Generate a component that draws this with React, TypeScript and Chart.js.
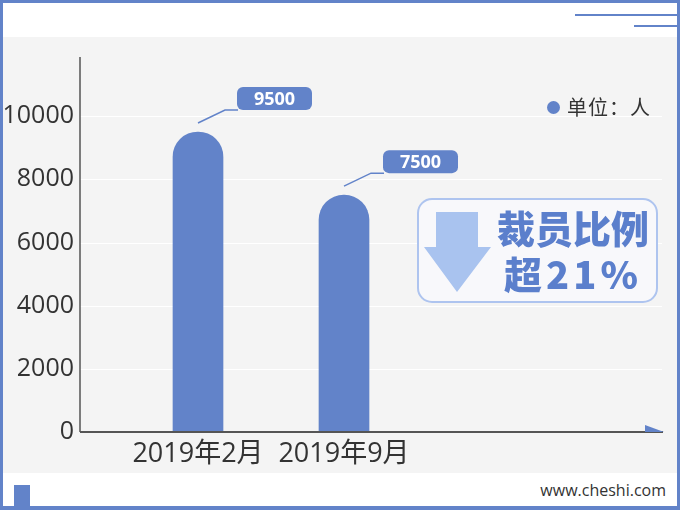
import React, { useEffect, useRef } from "react";
import { Chart, registerables } from "chart.js";

Chart.register(...registerables);

const categories = ["2019年2月", "2019年9月"];
const headcount = [9500, 7500];
const yTickValues = [0, 2000, 4000, 6000, 8000, 10000];
const yMax = 12000;
const unitLabel = "单位：人";
const badgeLine1 = "裁员比例";
const badgeLine2 = "超21%";
const siteText = "www.cheshi.com";

const BLUE = "#6283c9";
const FONT = '"Open Sans", "Noto Sans CJK SC", sans-serif';
const CJK = '"Noto Sans CJK SC", "Open Sans", sans-serif';

const decorPlugin = {
  id: "decor",
  beforeDatasetsDraw(chart: any) {
    const { ctx, chartArea, scales } = chart;
    const left = chartArea.left - 45;
    const right = 662;
    ctx.save();
    ctx.strokeStyle = "#ffffff";
    ctx.lineWidth = 1;
    yTickValues.forEach((v) => {
      if (v === 0) return;
      const y = Math.round(scales.y.getPixelForValue(v)) + 0.5;
      ctx.beginPath();
      ctx.moveTo(left, y);
      ctx.lineTo(right, y);
      ctx.stroke();
    });
    // y axis line
    ctx.strokeStyle = "#555555";
    ctx.lineWidth = 1.5;
    ctx.beginPath();
    ctx.moveTo(left, chartArea.top + 4);
    ctx.lineTo(left, chartArea.bottom);
    ctx.stroke();
    ctx.restore();
  },
  afterDatasetsDraw(chart: any) {
    const { ctx, chartArea } = chart;
    const left = chartArea.left - 45;
    const y0 = chartArea.bottom;
    ctx.save();
    // x axis line
    ctx.strokeStyle = "#555555";
    ctx.lineWidth = 2;
    ctx.beginPath();
    ctx.moveTo(left, y0);
    ctx.lineTo(663, y0);
    ctx.stroke();
    // arrow flag
    ctx.fillStyle = BLUE;
    ctx.beginPath();
    ctx.moveTo(645, y0 - 7);
    ctx.lineTo(664, y0);
    ctx.lineTo(645, y0);
    ctx.closePath();
    ctx.fill();
    // callouts
    const meta = chart.getDatasetMeta(0);
    meta.data.forEach((el: any, i: number) => {
      const x = el.x;
      const y = el.y;
      ctx.strokeStyle = BLUE;
      ctx.lineWidth = 1.5;
      ctx.beginPath();
      ctx.moveTo(x, y - 9);
      ctx.lineTo(x + 27, y - 22);
      ctx.lineTo(x + 40, y - 22);
      ctx.stroke();
      const bx = x + 39;
      const by = y - 45;
      const bw = 75;
      const bh = 23;
      ctx.fillStyle = BLUE;
      ctx.beginPath();
      (ctx as any).roundRect(bx, by, bw, bh, 6);
      ctx.fill();
      ctx.fillStyle = "#ffffff";
      ctx.font = `bold 18px ${FONT}`;
      ctx.textAlign = "center";
      ctx.textBaseline = "middle";
      ctx.fillText(String(headcount[i]), bx + bw / 2, by + bh / 2 + 1);
    });
    ctx.restore();
  },
};

export default function App() {
  const canvasRef = useRef<HTMLCanvasElement | null>(null);

  useEffect(() => {
    const canvas = canvasRef.current;
    if (!canvas) return;
    const chart = new Chart(canvas, {
      type: "bar",
      data: {
        labels: categories,
        datasets: [
          {
            label: unitLabel,
            data: headcount,
            backgroundColor: BLUE,
            barThickness: 50,
            borderRadius: { topLeft: 25, topRight: 25, bottomLeft: 0, bottomRight: 0 },
            borderSkipped: "bottom",
          },
        ],
      },
      options: {
        responsive: false,
        animation: false,
        devicePixelRatio: 1,
        layout: { padding: { left: 0, right: 263, top: 53, bottom: 0 } },
        plugins: {
          legend: { display: false },
          tooltip: { enabled: false },
        },
        scales: {
          x: {
            grid: { display: false, drawTicks: false },
            border: { display: false },
            ticks: {
              color: "#333333",
              font: { family: FONT, size: 27 },
              padding: 6,
              maxRotation: 0,
              minRotation: 0,
              autoSkip: false,
            },
            afterFit: (scale: any) => {
              scale.height = 78;
              scale.paddingLeft = 0;
              scale.paddingRight = 0;
            },
          },
          y: {
            min: 0,
            max: yMax,
            grid: { display: false, drawTicks: false },
            border: { display: false },
            ticks: {
              color: "#333333",
              font: { family: FONT, size: 25 },
              padding: 51,
              callback: (v: any) => String(v),
            },
            afterBuildTicks: (scale: any) => {
              scale.ticks = yTickValues.map((v) => ({ value: v }));
            },
            afterFit: (scale: any) => {
              scale.width = 125;
              scale.paddingTop = 0;
              scale.paddingBottom = 0;
            },
          },
        },
      },
      plugins: [decorPlugin],
    });
    return () => chart.destroy();
  }, []);

  return (
    <div
      style={{
        position: "fixed",
        left: 0,
        top: 0,
        width: 680,
        height: 510,
        background: "#ffffff",
        overflow: "hidden",
        fontFamily: CJK,
      }}
    >
      {/* gray panel */}
      <div style={{ position: "absolute", left: 0, top: 37, width: 680, height: 436, background: "#f4f4f4" }} />
      {/* border */}
      <div
        style={{
          position: "absolute",
          left: 0,
          top: 0,
          width: 680,
          height: 510,
          boxSizing: "border-box",
          borderStyle: "solid",
          borderColor: BLUE,
          borderWidth: "3px 3px 4px 3px",
        }}
      />
      {/* top-right lines */}
      <div style={{ position: "absolute", left: 575, top: 14, width: 103, height: 2, background: BLUE }} />
      <div style={{ position: "absolute", left: 634, top: 25, width: 44, height: 2, background: BLUE }} />
      {/* bottom-left square */}
      <div style={{ position: "absolute", left: 14, top: 485, width: 16, height: 22, background: BLUE }} />
      <div
        style={{
          position: "absolute",
          right: 14,
          top: 479,
          fontFamily: FONT,
          fontSize: 16,
          color: "#333",
          lineHeight: "22px",
        }}
      >
        {siteText}
      </div>
      <canvas ref={canvasRef} width={680} height={510} style={{ position: "absolute", left: 0, top: 0 }} />
      {/* unit legend */}
      <div style={{ position: "absolute", left: 547, top: 101, width: 13, height: 13, borderRadius: "50%", background: BLUE }} />
      <div style={{ position: "absolute", left: 567, top: 93, fontSize: 20, lineHeight: "28px", color: "#333", letterSpacing: 1 }}>
        {unitLabel}
      </div>
      {/* badge */}
      <div
        style={{
          position: "absolute",
          left: 417,
          top: 198,
          width: 241,
          height: 105,
          boxSizing: "border-box",
          border: "2px solid #aec4ef",
          borderRadius: 15,
          background: "#f8f8fb",
        }}
      />
      <svg style={{ position: "absolute", left: 0, top: 0 }} width={680} height={510}>
        <polygon points="436,212 478,212 478,247 491,247 457,292 424,247 436,247" fill="#a9c3ef" />
      </svg>
      <div
        style={{
          position: "absolute",
          left: 488,
          top: 204,
          width: 170,
          textAlign: "center",
          color: "#5b7fcc",
          fontWeight: 900,
          fontSize: 38,
          lineHeight: "46px",
        }}
      >
        <div>{badgeLine1}</div>
        <div style={{ letterSpacing: 4 }}>{badgeLine2}</div>
      </div>
    </div>
  );
}
